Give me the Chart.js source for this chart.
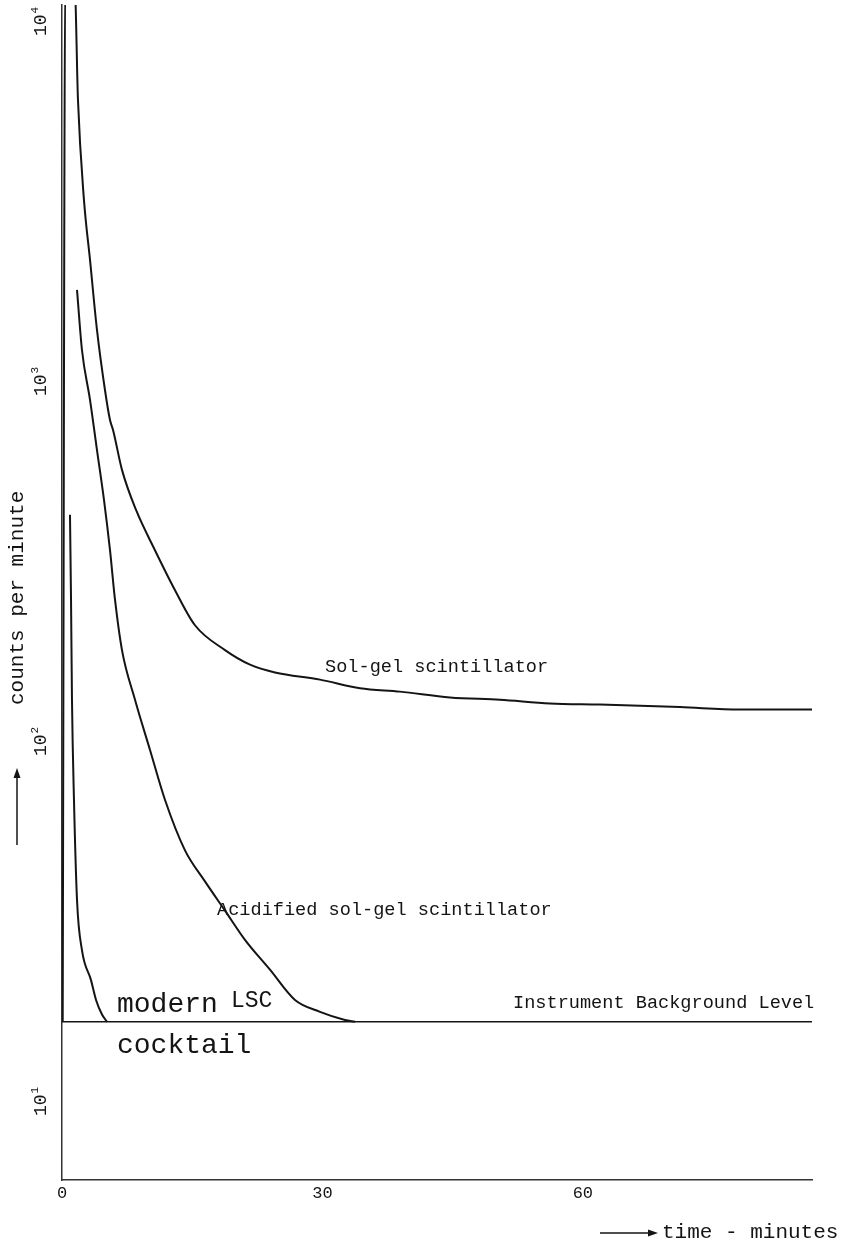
<!DOCTYPE html>
<html>
<head>
<meta charset="utf-8">
<script src="https://cdn.jsdelivr.net/npm/chart.js@4/dist/chart.umd.min.js"></script>
<style>
  html, body { margin: 0; padding: 0; background: #fff; }
  #wrap { width: 853px; height: 1249px; position: relative; }
  canvas { display: block; }
</style>
</head>
<body>
<div id="wrap"><canvas id="c" width="853" height="1249"></canvas></div>
<script>
// Axis ticks
const timeTicks = [0, 30, 60];
const countTicks = [10, 100, 1000, 10000];
const countTickExponents = ['1', '2', '3', '4'];

// Instrument background level (cpm) over the measured time span (minutes)
const backgroundTime = [0, 86.4];
const backgroundCounts = [16.7, 16.7];

// Sol-gel scintillator: rise at t≈0, then slow decay toward a plateau
const solGelTime = [0.08, 0.38, 1.45, 1.84, 2.53, 3.23, 4.03, 4.95, 5.53, 5.88, 6.91, 8.53, 10.71, 13.02, 15.32, 18.78, 21.66, 24.54, 29.72, 34.33, 38.94, 44.70, 50.46, 56.22, 61.98, 71.2, 78.1, 86.4];
const solGelCounts = [16.7, 13500, 13000, 6070, 3205, 2180, 1395, 950, 784, 736, 570, 441, 341, 264, 211, 180, 164, 156, 149, 141, 138, 133, 131, 128, 127, 125, 123, 123];

// Acidified sol-gel scintillator
const acidTime = [1.73, 2.30, 3.23, 4.03, 4.84, 5.53, 6.11, 6.91, 8.41, 10.14, 11.87, 14.17, 16.47, 18.78, 21.08, 23.96, 26.84, 29.72, 32.6, 33.76];
const acidCounts = [1802, 1227, 891, 647, 470, 341, 248, 180, 131, 95, 69, 50, 41, 34, 28.2, 23.3, 19.2, 17.8, 16.9, 16.7];

// Modern LSC cocktail
const lscTime = [0.92, 1.04, 1.15, 1.38, 1.73, 2.30, 3.34, 3.92, 4.61, 5.18];
const lscCounts = [428, 248, 131, 69, 36.4, 26.4, 21.8, 19.2, 17.5, 16.7];

const xMin = 0, xMax = 86.4;
const yMin = 6.07, yMax = 11150;

const pts = (xs, ys) => xs.map((x, i) => ({ x, y: ys[i] }));

const FONT = '"Liberation Mono", "DejaVu Sans Mono", monospace';
const INK = '#141414';

const lineStyle = {
  borderColor: INK,
  borderWidth: 2,
  pointRadius: 0,
  fill: false,
  cubicInterpolationMode: 'monotone'
};

// Text, tick labels and axis titles drawn on top of the plot
const annotations = {
  id: 'annotations',
  beforeDraw(chart) {
    const ctx = chart.ctx;
    ctx.save();
    ctx.fillStyle = '#fff';
    ctx.fillRect(0, 0, chart.width, chart.height);
    ctx.restore();
  },
  afterDraw(chart) {
    const ctx = chart.ctx;
    const xs = chart.scales.x, ys = chart.scales.y;
    ctx.save();
    ctx.fillStyle = INK;
    ctx.strokeStyle = INK;

    // x tick labels
    ctx.font = '17px ' + FONT;
    ctx.textAlign = 'center';
    ctx.textBaseline = 'middle';
    timeTicks.forEach(t => {
      ctx.fillText(String(t), xs.getPixelForValue(t), 1193);
    });

    // y tick labels, rotated, with superscript exponent
    countTicks.forEach((v, i) => {
      const y = ys.getPixelForValue(v);
      ctx.save();
      ctx.translate(40, y);
      ctx.rotate(-Math.PI / 2);
      ctx.font = '18px ' + FONT;
      const base = '10';
      const wb = ctx.measureText(base).width;
      ctx.font = '11px ' + FONT;
      const we = ctx.measureText(countTickExponents[i]).width;
      const start = -(wb + we) / 2;
      ctx.textAlign = 'left';
      ctx.textBaseline = 'alphabetic';
      ctx.font = '18px ' + FONT;
      ctx.fillText(base, start, 6);
      ctx.font = '11px ' + FONT;
      ctx.fillText(countTickExponents[i], start + wb + 1, -2);
      ctx.restore();
    });

    // y axis title with arrow
    ctx.save();
    ctx.translate(17, 0);
    ctx.rotate(-Math.PI / 2);
    ctx.font = '21px ' + FONT;
    ctx.textAlign = 'left';
    ctx.textBaseline = 'middle';
    ctx.fillText('counts per minute', -705, 0);
    ctx.lineWidth = 1.5;
    ctx.beginPath();
    ctx.moveTo(-845, 0);
    ctx.lineTo(-775, 0);
    ctx.stroke();
    ctx.beginPath();
    ctx.moveTo(-768, 0);
    ctx.lineTo(-778, -3.5);
    ctx.lineTo(-778, 3.5);
    ctx.closePath();
    ctx.fill();
    ctx.restore();

    // x axis title with arrow
    ctx.lineWidth = 1.5;
    ctx.beginPath();
    ctx.moveTo(600, 1233);
    ctx.lineTo(650, 1233);
    ctx.stroke();
    ctx.beginPath();
    ctx.moveTo(658, 1233);
    ctx.lineTo(648, 1229.5);
    ctx.lineTo(648, 1236.5);
    ctx.closePath();
    ctx.fill();
    ctx.font = '21px ' + FONT;
    ctx.textAlign = 'left';
    ctx.textBaseline = 'middle';
    ctx.fillText('time - minutes', 662, 1232);

    // curve labels
    ctx.font = '18.6px ' + FONT;
    ctx.textBaseline = 'middle';
    ctx.fillText('Sol-gel scintillator', 325, 667);
    ctx.fillText('Acidified sol-gel scintillator', 217, 910);
    ctx.fillText('Instrument Background Level', 513, 1003);

    ctx.font = '28px ' + FONT;
    ctx.fillText('modern', 117, 1005);
    ctx.fillText('cocktail', 117, 1046);
    ctx.font = '23px ' + FONT;
    ctx.fillText('LSC', 231, 1001);

    ctx.restore();
  }
};

new Chart(document.getElementById('c'), {
  type: 'line',
  data: {
    datasets: [
      { label: 'Sol-gel scintillator', data: pts(solGelTime, solGelCounts), ...lineStyle },
      { label: 'Acidified sol-gel scintillator', data: pts(acidTime, acidCounts), ...lineStyle },
      { label: 'modern LSC cocktail', data: pts(lscTime, lscCounts), ...lineStyle },
      { label: 'Instrument Background Level', data: pts(backgroundTime, backgroundCounts), ...lineStyle, borderWidth: 1.6, cubicInterpolationMode: 'default', tension: 0 }
    ]
  },
  options: {
    responsive: false,
    animation: false,
    devicePixelRatio: 1,
    layout: { padding: { left: 62, top: 5, right: 41, bottom: 69 } },
    plugins: { legend: { display: false }, tooltip: { enabled: false } },
    scales: {
      x: {
        type: 'linear',
        min: xMin, max: xMax,
        grid: { display: false, drawTicks: false, tickLength: 0 },
        border: { display: true, color: '#333', width: 1.5 },
        ticks: { display: false, padding: 0 },
        afterBuildTicks: s => { s.ticks = timeTicks.map(v => ({ value: v })); }
      },
      y: {
        type: 'logarithmic',
        min: yMin, max: yMax,
        grid: { display: false, drawTicks: false, tickLength: 0 },
        border: { display: true, color: '#333', width: 1.5 },
        ticks: { display: false, padding: 0 },
        afterBuildTicks: s => { s.ticks = countTicks.map(v => ({ value: v })); }
      }
    }
  },
  plugins: [annotations]
});
</script>
</body>
</html>
